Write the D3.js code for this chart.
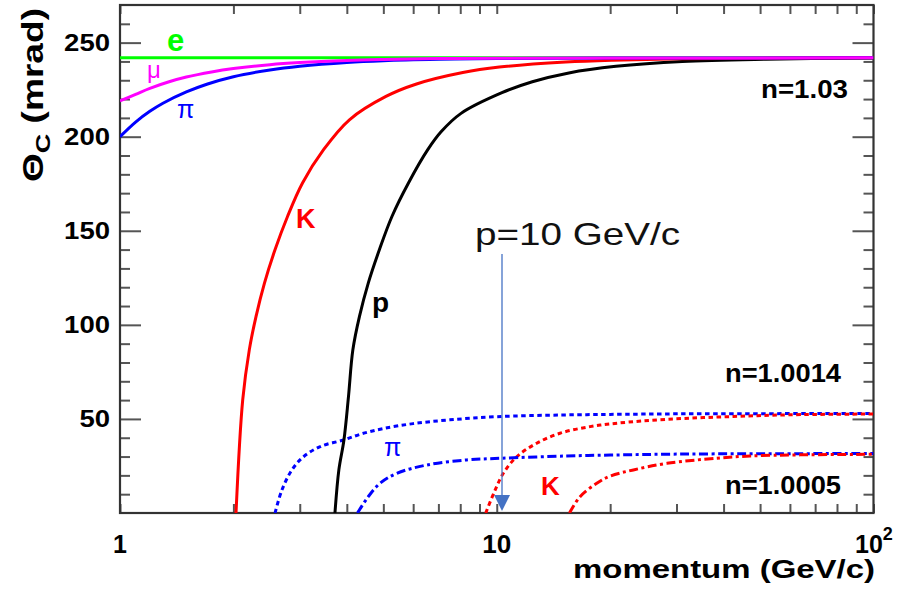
<!DOCTYPE html>
<html>
<head>
<meta charset="utf-8">
<script src="https://cdn.jsdelivr.net/npm/d3@7"></script>
<style>
  html, body { margin: 0; padding: 0; background: #fff; }
  svg { display: block; }
  text { font-family: "Liberation Sans", Arial, Helvetica, sans-serif; }
</style>
</head>
<body>
<svg id="chart" width="897" height="591"></svg>
<script>
// Cherenkov angle vs momentum for three radiator indices (n = 1.03, 1.0014, 1.0005)

// ---- n = 1.03 (solid) ----
const eMom  = [1, 100];
const eTheta = [241.9, 241.9];

const muMom  = [1, 1.1, 1.2, 1.35, 1.5, 1.75, 2, 2.5, 3, 4, 5, 7, 10, 20, 100];
const muTheta = [219, 222.5, 225.7, 229.2, 231.7, 234.4, 236.2, 238.3, 239.4, 240.5, 241.0, 241.5, 241.7, 241.8, 241.9];

const piMom  = [1, 1.1, 1.2, 1.3, 1.5, 1.7, 2, 2.5, 3, 4, 5, 7, 10, 20, 100];
const piTheta = [200, 207.8, 213.5, 217.8, 223.8, 227.9, 231.9, 235.5, 237.5, 239.5, 240.4, 241.1, 241.5, 241.8, 241.9];

const kMom  = [2.032, 2.117, 2.204, 2.296, 2.418, 2.579, 2.784, 3.051, 3.47, 4.064, 5.08, 6.096, 8.128, 10.16, 15.24, 20.32, 30.48, 50.8, 100];
const kTheta = [0, 60.1, 86.7, 104.4, 122.2, 139.9, 157.6, 175.4, 193.1, 209.0, 221.4, 227.9, 234.1, 237.0, 239.7, 240.7, 241.4, 241.7, 241.9];

const pMom  = [3.72, 3.81, 3.93, 4.04, 4.15, 4.32, 4.56, 4.88, 5.27, 5.83, 6.56, 7.115, 8.04, 10.36, 12.43, 15.54, 20.72, 31.08, 51.8, 100];
const pTheta = [0, 22.9, 38.8, 61.7, 86.7, 104.4, 122.2, 139.9, 157.6, 175.4, 193.1, 202.6, 212.4, 223.5, 229.2, 233.9, 237.4, 240.0, 241.2, 241.8];

// ---- n = 1.0014 (dotted) ----
const piDotMom  = [2.58, 2.69, 2.86, 3.07, 3.4, 3.92, 4.4, 5, 6, 7.5, 10, 15, 20, 30, 50, 100];
const piDotTheta = [0, 12.2, 22.9, 29.9, 35.3, 38.8, 42.2, 44.9, 47.5, 49.5, 51.2, 52.1, 52.4, 52.7, 52.8, 52.9];

const kDotMom  = [9.35, 9.9, 10.41, 11.3, 12.77, 14.72, 17.69, 21, 28.3, 42.5, 60, 100];
const kDotTheta = [0, 12.2, 21.1, 29.9, 37.1, 42.4, 45.9, 47.8, 49.8, 51.3, 52.2, 52.6];

// ---- n = 1.0005 (dash-dot) ----
const piDDMom  = [4.27, 4.56, 4.9, 5.43, 6.52, 8.32, 10.3, 15.3, 20, 30, 50, 100];
const piDDTheta = [0, 8.7, 15.8, 21.1, 25.5, 28.2, 29.1, 30.3, 30.8, 31.3, 31.5, 31.6];

const kDDMom  = [15.6, 16.64, 18.43, 20, 23.05, 28.3, 38.4, 47, 63.9, 100];
const kDDTheta = [0, 8.7, 15.8, 19.6, 22.9, 26.4, 29.1, 30.3, 30.9, 31.2];

// axis ticks
const yMajor = [50, 100, 150, 200, 250];
const yMinor = [10, 20, 30, 40, 60, 70, 80, 90, 110, 120, 130, 140, 160, 170, 180, 190, 210, 220, 230, 240, 260];
const xMajor = [1, 10, 100];
const xMinor = [2, 3, 4, 5, 6, 7, 8, 9, 20, 30, 40, 50, 60, 70, 80, 90];

const svg = d3.select("#chart");
const frameL = 120, frameR = 873.5, frameT = 5, frameB = 513;

const x = d3.scaleLog().domain([1, 100]).range([frameL, frameR]);
const y = d3.scaleLinear().domain([0, 270]).range([frameB, frameT]);

const tickColor = "#555";

// ---- axes (ticks point inward on all four sides) ----
function styleAxis(g) {
  g.selectAll(".domain").remove();
  g.selectAll(".tick line").attr("stroke", tickColor).attr("stroke-width", 2);
}

svg.append("g").attr("transform", `translate(${frameL},0)`)
  .call(d3.axisLeft(y).tickValues(yMajor).tickSizeInner(-21).tickSizeOuter(0).tickPadding(10).tickFormat(d3.format("d")))
  .call(styleAxis)
  .call(g => g.selectAll("text")
    .attr("font-size", 24).attr("font-weight", "bold").attr("fill", "#000")
    .attr("font-family", "Liberation Sans, Arial, sans-serif")
    .attr("dy", "0.33em")
    .attr("textLength", d => String(d).length * 15.3)
    .attr("lengthAdjust", "spacingAndGlyphs"));

svg.append("g").attr("transform", `translate(${frameL},0)`)
  .call(d3.axisLeft(y).tickValues(yMinor).tickSizeInner(-10).tickSizeOuter(0).tickFormat(""))
  .call(styleAxis);

svg.append("g").attr("transform", `translate(${frameR},0)`)
  .call(d3.axisRight(y).tickValues(yMajor).tickSizeInner(-21).tickSizeOuter(0).tickFormat(""))
  .call(styleAxis);
svg.append("g").attr("transform", `translate(${frameR},0)`)
  .call(d3.axisRight(y).tickValues(yMinor).tickSizeInner(-10).tickSizeOuter(0).tickFormat(""))
  .call(styleAxis);

svg.append("g").attr("transform", `translate(0,${frameB})`)
  .call(d3.axisBottom(x).tickValues(xMajor.concat(xMinor)).tickSizeInner(-9).tickSizeOuter(0).tickFormat(""))
  .call(styleAxis);
svg.append("g").attr("transform", `translate(0,${frameT})`)
  .call(d3.axisTop(x).tickValues(xMajor.concat(xMinor)).tickSizeInner(-9).tickSizeOuter(0).tickFormat(""))
  .call(styleAxis);

// x tick labels (decades)
const xLab = svg.append("g").attr("font-weight", "bold").attr("font-size", 25).attr("fill", "#000");
xLab.append("text").attr("x", x(1)).attr("y", 553).attr("text-anchor", "middle").text("1");
xLab.append("text").attr("x", x(10)).attr("y", 553).attr("text-anchor", "middle")
  .attr("textLength", 29).attr("lengthAdjust", "spacingAndGlyphs").text("10");
const t100 = xLab.append("text").attr("x", 855).attr("y", 553);
t100.append("tspan").text("10");
t100.append("tspan").attr("font-size", 18).attr("dy", -13).text("2");

// frame
svg.append("rect").attr("x", frameL).attr("y", frameT)
  .attr("width", frameR - frameL).attr("height", frameB - frameT)
  .attr("fill", "none").attr("stroke", "#333").attr("stroke-width", 2.2);

// ---- curves ----
svg.append("defs").append("clipPath").attr("id", "clip")
  .append("rect").attr("x", frameL).attr("y", frameT).attr("width", frameR - frameL).attr("height", frameB - frameT);
const plot = svg.append("g").attr("clip-path", "url(#clip)");

const line = d3.line().x(d => x(d[0])).y(d => y(d[1])).curve(d3.curveCatmullRom.alpha(0.5));
function curve(mom, theta, color, dash) {
  plot.append("path")
    .datum(d3.zip(mom, theta))
    .attr("d", line)
    .attr("fill", "none")
    .attr("stroke", color)
    .attr("stroke-width", 3)
    .attr("stroke-dasharray", dash || null);
}

const dotted = "4.5,3.5";
const dashDot = "9,3.5,3,3.5";
curve(piDotMom, piDotTheta, "#0000ff", dotted);
curve(kDotMom, kDotTheta, "#ff0000", dotted);
curve(piDDMom, piDDTheta, "#0000ff", dashDot);
curve(kDDMom, kDDTheta, "#ff0000", dashDot);
curve(eMom, eTheta, "#00ff00");
curve(pMom, pTheta, "#000000");
curve(kMom, kTheta, "#ff0000");
curve(piMom, piTheta, "#0000ff");
curve(muMom, muTheta, "#ff00ff");

// ---- curve labels ----
function label(txt, px, py, color, size, weight, len) {
  const t = svg.append("text").attr("x", px).attr("y", py)
    .attr("fill", color).attr("font-size", size).attr("font-weight", weight || "bold").text(txt);
  if (len) t.attr("textLength", len).attr("lengthAdjust", "spacingAndGlyphs");
  return t;
}
label("e", 167, 51, "#00ff00", 31);
label("μ", 147, 78, "#ff00ff", 24, "normal");
label("π", 177, 118, "#0000ff", 25, "normal");
label("K", 296, 228, "#ff0000", 27);
label("p", 372, 312, "#000", 28);
label("n=1.03", 761, 98, "#000", 25, "bold", 87);
label("n=1.0014", 725, 381.5, "#000", 25, "bold", 116);
label("π", 384, 456, "#0000ff", 25, "normal");
label("K", 541, 495, "#ff0000", 26);
label("n=1.0005", 725, 494, "#000", 25, "bold", 116);

// ---- axis titles ----
svg.append("text").attr("x", 573).attr("y", 578)
  .attr("font-size", 26).attr("font-weight", "bold").attr("fill", "#000")
  .attr("textLength", 302).attr("lengthAdjust", "spacingAndGlyphs")
  .text("momentum (GeV/c)");

const yt = svg.append("text")
  .attr("transform", "translate(43,182) rotate(-90)")
  .attr("font-size", 29).attr("font-weight", "bold").attr("fill", "#000")
  .attr("textLength", 174).attr("lengthAdjust", "spacingAndGlyphs");
yt.append("tspan").text("Θ");
yt.append("tspan").attr("font-size", 21).attr("dy", 7).text("C");
yt.append("tspan").attr("dy", -7).text(" (mrad)");

// ---- annotation: p = 10 GeV/c ----
const accent = "#4472C4";
svg.append("text").attr("x", 475).attr("y", 245)
  .attr("font-family", "Lato, 'Open Sans', sans-serif").attr("font-size", 32).attr("fill", "#111")
  .attr("textLength", 205).attr("lengthAdjust", "spacingAndGlyphs")
  .text("p=10 GeV/c");
svg.append("line").attr("x1", 502).attr("x2", 502).attr("y1", 254).attr("y2", 496)
  .attr("stroke", accent).attr("stroke-width", 1.3);
svg.append("path").attr("d", "M494,495 L510,495 L502,511 Z").attr("fill", accent);
</script>
</body>
</html>
